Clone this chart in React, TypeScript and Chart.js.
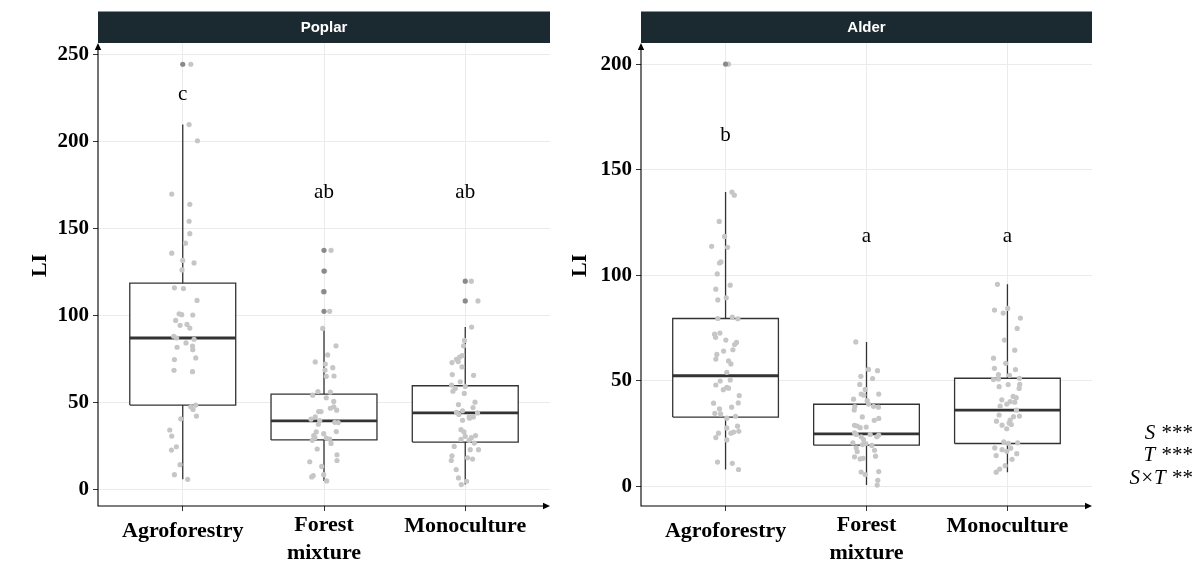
import React, { useEffect, useRef } from 'react';
import { Chart, registerables } from 'chart.js';

Chart.register(...registerables);

const SERIF = '"Liberation Serif", "Times New Roman", serif';
const SANS = '"Liberation Sans", Arial, sans-serif';

// ---------- shared ----------
const categories = ['Agroforestry', 'Forest mixture', 'Monoculture'];
const xTickLabels = [['Agroforestry'], ['Forest', 'mixture'], ['Monoculture']];
const yAxisTitle = 'LI';
const effectsText = ['S ***', 'T ***', 'S×T **'];

// ---------- Poplar ----------
const poplarTitle = 'Poplar';
const poplarYTicks = [0, 50, 100, 150, 200, 250];
const poplarYMin = -9.2;
const poplarYMax = 256.5;
const poplarQ1 = [48.7, 28.7, 27.5];
const poplarMedian = [87.2, 39.6, 44.2];
const poplarQ3 = [118.7, 55.0, 59.8];
const poplarWhiskerLow = [6.1, 5.2, 3.1];
const poplarWhiskerHigh = [209.7, 92.7, 93.5];
const poplarOutliers = [[244.3], [137.5, 125.6, 113.8, 102.5], [119.8, 108.5]];
const poplarLetters = ['c', 'ab', 'ab'];
const poplarLetterY = [227, 170.7, 170.7];

const poplarAgroValues = [244.3, 209.7, 200.4, 169.8, 163.9, 154.2, 147.1, 141.6, 135.9, 131.7, 130.3, 126.3, 116.0, 115.6, 108.8, 101.1, 100.6, 100.4, 97.3, 94.5, 95.0, 92.9, 88.2, 87.2, 86.5, 84.4, 82.6, 81.9, 80.5, 75.8, 74.8, 68.7, 67.9, 48.7, 47.7, 46.2, 42.4, 40.8, 34.4, 30.9, 24.8, 22.9, 14.5, 8.8, 6.1];
const poplarAgroJitter = [0.057, 0.045, 0.104, -0.078, 0.050, 0.045, 0.050, 0.019, -0.078, 0.000, 0.080, -0.005, -0.059, 0.005, 0.101, -0.026, -0.007, 0.071, -0.050, -0.019, 0.030, 0.050, -0.064, -0.043, 0.080, 0.023, 0.069, -0.040, 0.071, 0.092, -0.059, -0.062, 0.069, 0.092, 0.057, 0.073, 0.097, -0.014, -0.092, -0.078, -0.045, -0.080, -0.019, -0.059, 0.035];

const poplarForestValues = [137.5, 125.6, 113.8, 102.5, 92.7, 82.7, 77.5, 73.5, 72.3, 70.2, 68.8, 65.2, 65.4, 54.4, 56.5, 56.2, 52.9, 50.8, 47.7, 46.9, 45.8, 45.0, 45.0, 41.9, 40.6, 39.8, 38.7, 38.8, 37.7, 33.3, 32.3, 33.5, 31.2, 30.0, 29.8, 29.2, 28.5, 26.7, 23.5, 20.2, 16.9, 16.2, 13.5, 8.3, 7.5, 8.8, 5.2];
const poplarForestJitter = [0.050, 0.005, -0.005, 0.040, -0.009, 0.085, 0.026, -0.062, 0.009, 0.062, 0.007, 0.016, 0.071, -0.080, -0.043, 0.045, 0.016, 0.069, 0.069, 0.045, 0.090, -0.038, -0.021, -0.062, -0.092, -0.030, 0.101, 0.076, -0.040, -0.055, -0.002, 0.087, -0.073, -0.064, 0.016, 0.040, -0.083, 0.050, -0.048, 0.092, 0.092, -0.101, -0.016, -0.076, -0.087, -0.002, 0.019];

const poplarMonoValues = [119.8, 108.5, 93.5, 85.8, 82.7, 77.1, 76.2, 75.0, 73.7, 73.1, 70.6, 65.8, 66.2, 62.1, 60.2, 59.4, 58.3, 56.7, 55.4, 50.4, 49.0, 47.3, 44.6, 45.4, 44.2, 43.3, 41.9, 41.9, 41.2, 40.0, 34.6, 33.3, 31.2, 30.0, 30.8, 29.0, 28.5, 26.9, 23.1, 23.1, 25.0, 18.5, 17.7, 19.6, 16.9, 11.7, 6.9, 5.0, 3.1];
const poplarMonoJitter = [0.043, 0.090, 0.045, -0.005, -0.012, -0.021, -0.040, -0.062, -0.050, -0.094, -0.023, 0.059, -0.092, -0.035, -0.097, 0.000, -0.071, -0.087, -0.007, 0.069, -0.048, 0.055, -0.062, -0.019, 0.087, -0.045, 0.028, 0.057, 0.030, -0.019, -0.030, -0.009, 0.073, 0.043, 0.000, -0.030, 0.028, 0.064, 0.094, 0.035, -0.078, 0.016, 0.052, -0.094, -0.099, -0.064, -0.048, 0.009, -0.028];

// ---------- Alder ----------
const alderTitle = 'Alder';
const alderYTicks = [0, 50, 100, 150, 200];
const alderYMin = -9.3;
const alderYMax = 210.0;
const alderQ1 = [32.8, 19.5, 20.3];
const alderMedian = [52.4, 24.9, 36.1];
const alderQ3 = [79.5, 38.9, 51.2];
const alderWhiskerLow = [8.0, 0.6, 6.7];
const alderWhiskerHigh = [139.4, 68.4, 95.7];
const alderOutliers = [[200], [], []];
const alderLetters = ['b', 'a', 'a'];
const alderLetterY = [166, 118.3, 118.3];

const alderAgroValues = [200, 139.4, 137.9, 125.5, 118.4, 113.7, 113.2, 106.3, 105.8, 100.6, 95.3, 93.4, 89.3, 88.3, 79.5, 80.2, 79.4, 72.1, 72.6, 70.6, 69.3, 68.2, 67.2, 62.5, 64.1, 64.7, 60.3, 59.4, 58.0, 54.0, 49.9, 50.4, 48.0, 46.9, 45.8, 46.5, 43.0, 39.5, 39.4, 36.7, 37.5, 34.6, 34.3, 33.2, 32.3, 27.7, 28.5, 26.1, 25.7, 25.2, 25.2, 23.1, 22.0, 11.5, 10.9, 8.0];
const alderAgroJitter = [0.021, 0.045, 0.062, -0.045, -0.007, -0.099, 0.014, -0.033, -0.043, -0.059, 0.033, -0.069, 0.005, -0.055, -0.055, 0.048, 0.087, -0.078, -0.040, -0.071, 0.002, 0.078, 0.064, -0.062, -0.014, 0.052, -0.069, 0.021, 0.038, 0.009, -0.038, 0.033, -0.069, 0.009, -0.016, 0.021, 0.097, 0.090, -0.085, -0.043, 0.043, -0.076, -0.035, 0.071, 0.009, 0.009, 0.085, 0.094, 0.057, -0.050, 0.038, -0.069, 0.009, -0.057, 0.048, 0.092];

const alderForestValues = [68.4, 55.4, 54.8, 52.1, 51.1, 48.3, 45.9, 43.7, 43.2, 43.7, 41.3, 40.6, 37.8, 39.0, 37.9, 37.5, 36.2, 32.9, 32.2, 31.3, 28.9, 28.6, 27.8, 28.1, 25.4, 24.6, 23.5, 24.6, 24.3, 23.5, 22.2, 20.6, 19.8, 20.3, 19.4, 18.3, 17.1, 16.5, 14.0, 13.0, 13.3, 14.3, 6.8, 5.6, 7.0, 2.9, 0.6];
const alderForestJitter = [-0.076, 0.014, 0.078, -0.040, 0.043, -0.048, -0.009, -0.038, -0.019, 0.087, -0.092, 0.005, -0.083, 0.014, 0.050, 0.085, -0.087, -0.030, 0.087, 0.055, -0.085, -0.066, -0.045, -0.002, -0.085, -0.073, -0.038, 0.026, 0.087, 0.073, -0.021, -0.097, -0.028, -0.005, 0.038, -0.073, 0.057, -0.066, -0.085, -0.045, -0.023, 0.064, -0.038, -0.009, 0.087, 0.080, 0.076];

const alderMonoValues = [95.7, 83.5, 82.1, 84.3, 79.7, 74.8, 69.3, 64.5, 60.7, 58.3, 55.9, 55.3, 52.9, 52.6, 50.6, 50.9, 51.2, 48.3, 48.2, 47.2, 46.4, 42.6, 42.0, 41.0, 40.1, 39.9, 39.0, 38.0, 36.1, 33.8, 33.3, 33.0, 31.4, 30.9, 30.0, 29.0, 29.3, 27.3, 21.1, 20.4, 20.6, 18.2, 17.4, 18.1, 16.6, 15.5, 14.6, 12.8, 9.8, 8.2, 6.7];
const alderMonoJitter = [-0.071, -0.092, -0.030, 0.002, 0.092, 0.069, -0.021, 0.052, -0.099, -0.012, -0.092, 0.057, -0.064, 0.014, -0.099, -0.064, 0.085, 0.087, 0.005, -0.059, 0.083, 0.040, 0.062, -0.040, 0.019, 0.052, -0.005, -0.052, 0.064, -0.059, 0.085, 0.043, 0.019, -0.078, 0.012, -0.038, 0.028, -0.005, -0.026, 0.007, 0.073, -0.090, -0.038, 0.023, -0.005, 0.066, -0.080, 0.033, -0.016, -0.055, -0.080];

// ---------- chart construction ----------
const BOX_HALF = 0.375;

interface PanelSpec {
  title: string;
  yTicks: number[];
  yMin: number;
  yMax: number;
  q1: number[];
  median: number[];
  q3: number[];
  low: number[];
  high: number[];
  outliers: number[][];
  letters: string[];
  letterY: number[];
  values: number[][];
  jitter: number[][];
  yAxisWidth: number;
  rightPad: number;
  titleX: number;
  showEffects: boolean;
}

function buildDatasets(p: PanelSpec): any[] {
  const ds: any[] = [];
  p.q1.forEach((_, i) => {
    ds.push({
      data: [
        { x: i - BOX_HALF, y: p.q1[i] },
        { x: i + BOX_HALF, y: p.q1[i] },
        { x: i + BOX_HALF, y: p.q3[i] },
        { x: i - BOX_HALF, y: p.q3[i] },
        { x: i - BOX_HALF, y: p.q1[i] },
      ],
      showLine: true,
      fill: 'shape',
      backgroundColor: '#ffffff',
      borderColor: '#333333',
      borderWidth: 1.3,
      borderJoinStyle: 'miter',
      pointRadius: 0,
      order: 4,
    });
  });
  const whisk: any[] = [];
  const med: any[] = [];
  p.q1.forEach((_, i) => {
    whisk.push({ x: i, y: p.q3[i] }, { x: i, y: p.high[i] }, { x: i, y: null });
    whisk.push({ x: i, y: p.q1[i] }, { x: i, y: p.low[i] }, { x: i, y: null });
    med.push({ x: i - BOX_HALF, y: p.median[i] }, { x: i + BOX_HALF, y: p.median[i] }, { x: i, y: null });
  });
  ds.push({
    data: whisk,
    showLine: true,
    spanGaps: false,
    borderColor: '#333333',
    borderWidth: 1.3,
    pointRadius: 0,
    order: 3,
  });
  ds.push({
    data: med,
    showLine: true,
    spanGaps: false,
    borderColor: '#333333',
    borderWidth: 2.8,
    borderCapStyle: 'butt',
    pointRadius: 0,
    order: 2,
  });
  const pts: any[] = [];
  p.values.forEach((vals, i) => {
    vals.forEach((v, k) => pts.push({ x: i + p.jitter[i][k], y: v }));
  });
  ds.push({
    data: pts,
    showLine: false,
    pointRadius: 2.6,
    pointBorderWidth: 0,
    pointBackgroundColor: '#c6c6c6',
    pointBorderColor: '#c6c6c6',
    order: 1,
  });
  const outs: any[] = [];
  p.outliers.forEach((vals, i) => vals.forEach((v) => outs.push({ x: i, y: v })));
  ds.push({
    data: outs,
    showLine: false,
    pointRadius: 2.6,
    pointBorderWidth: 0,
    pointBackgroundColor: '#8a8a8a',
    pointBorderColor: '#8a8a8a',
    order: 0,
  });
  return ds;
}

function decorPlugin(p: PanelSpec) {
  return {
    id: 'decor',
    afterDraw(chart: any) {
      const ctx: CanvasRenderingContext2D = chart.ctx;
      const a = chart.chartArea;
      const xs = chart.scales.x;
      const ys = chart.scales.y;
      ctx.save();
      // strip
      const stripTop = 11.5;
      ctx.fillStyle = '#1b2a31';
      ctx.fillRect(a.left, stripTop, a.right - a.left, a.top - stripTop);
      ctx.fillStyle = '#ffffff';
      ctx.font = `bold 15px ${SANS}`;
      ctx.textAlign = 'center';
      ctx.textBaseline = 'middle';
      ctx.fillText(p.title, (a.left + a.right) / 2, (stripTop + a.top) / 2 + 1);

      // axis lines with arrows
      ctx.strokeStyle = '#000000';
      ctx.fillStyle = '#000000';
      ctx.lineWidth = 1.1;
      ctx.beginPath();
      ctx.moveTo(a.left, a.bottom + 0.5);
      ctx.lineTo(a.left, a.top + 5);
      ctx.moveTo(a.left - 0.5, a.bottom);
      ctx.lineTo(a.right - 5, a.bottom);
      ctx.stroke();
      ctx.beginPath();
      ctx.moveTo(a.left, a.top);
      ctx.lineTo(a.left - 3.2, a.top + 7);
      ctx.lineTo(a.left + 3.2, a.top + 7);
      ctx.closePath();
      ctx.fill();
      ctx.beginPath();
      ctx.moveTo(a.right, a.bottom);
      ctx.lineTo(a.right - 7, a.bottom - 3.2);
      ctx.lineTo(a.right - 7, a.bottom + 3.2);
      ctx.closePath();
      ctx.fill();

      // significance letters
      ctx.font = `21px ${SERIF}`;
      ctx.textAlign = 'center';
      ctx.textBaseline = 'middle';
      p.letters.forEach((t, i) => {
        ctx.fillText(t, xs.getPixelForValue(i), ys.getPixelForValue(p.letterY[i]));
      });

      // category labels
      ctx.font = `bold 22px ${SERIF}`;
      ctx.textBaseline = 'alphabetic';
      xTickLabels.forEach((lines, i) => {
        const cx = xs.getPixelForValue(i);
        if (lines.length > 1) {
          lines.forEach((ln, j) => ctx.fillText(ln, cx, a.bottom + 25 + j * 27.5));
        } else {
          const m = ctx.measureText(lines[0]);
          const hasDesc = m.actualBoundingBoxDescent > 2;
          ctx.fillText(lines[0], cx, a.bottom + (hasDesc ? 30.5 : 26));
        }
      });

      // y axis title
      ctx.save();
      ctx.translate(p.titleX, (a.top + a.bottom) / 2 - 9);
      ctx.rotate(-Math.PI / 2);
      ctx.font = `bold 22px ${SERIF}`;
      ctx.textAlign = 'center';
      ctx.textBaseline = 'middle';
      ctx.fillText(yAxisTitle, 0, 0);
      ctx.restore();

      // model effects annotation
      if (p.showEffects) {
        ctx.font = `italic 21px ${SERIF}`;
        ctx.textAlign = 'right';
        ctx.textBaseline = 'middle';
        const ex = chart.width - 8;
        effectsText.forEach((t, k) => ctx.fillText(t, ex, 433 + k * 22.5));
      }
      ctx.restore();
    },
  };
}

function makeConfig(p: PanelSpec): any {
  return {
    type: 'scatter',
    data: { datasets: buildDatasets(p) },
    plugins: [decorPlugin(p)],
    options: {
      responsive: false,
      animation: false,
      events: [],
      layout: { padding: { top: 43, right: p.rightPad, left: 0, bottom: 0 } },
      plugins: { legend: { display: false }, tooltip: { enabled: false } },
      scales: {
        x: {
          type: 'linear',
          min: -0.6,
          max: 2.6,
          afterBuildTicks: (s: any) => {
            s.ticks = categories.map((_, i) => ({ value: i }));
          },
          afterFit: (s: any) => {
            s.height = 56;
          },
          ticks: { display: false },
          grid: { color: '#ebebeb', lineWidth: 1, tickColor: '#333333', tickLength: 5 },
          border: { display: false },
        },
        y: {
          type: 'linear',
          min: p.yMin,
          max: p.yMax,
          afterBuildTicks: (s: any) => {
            s.ticks = p.yTicks.map((v) => ({ value: v }));
          },
          afterFit: (s: any) => {
            s.width = p.yAxisWidth;
          },
          ticks: {
            color: '#000000',
            padding: 4,
            font: { family: SERIF, size: 21, weight: 'bold' },
            callback: (v: any) => String(v),
          },
          grid: { color: '#ebebeb', lineWidth: 1, tickColor: '#333333', tickLength: 5 },
          border: { display: false },
        },
      },
    },
  };
}

const poplarSpec: PanelSpec = {
  title: poplarTitle,
  yTicks: poplarYTicks,
  yMin: poplarYMin,
  yMax: poplarYMax,
  q1: poplarQ1,
  median: poplarMedian,
  q3: poplarQ3,
  low: poplarWhiskerLow,
  high: poplarWhiskerHigh,
  outliers: poplarOutliers,
  letters: poplarLetters,
  letterY: poplarLetterY,
  values: [poplarAgroValues, poplarForestValues, poplarMonoValues],
  jitter: [poplarAgroJitter, poplarForestJitter, poplarMonoJitter],
  yAxisWidth: 98,
  rightPad: 10,
  titleX: 40,
  showEffects: false,
};

const alderSpec: PanelSpec = {
  title: alderTitle,
  yTicks: alderYTicks,
  yMin: alderYMin,
  yMax: alderYMax,
  q1: alderQ1,
  median: alderMedian,
  q3: alderQ3,
  low: alderWhiskerLow,
  high: alderWhiskerHigh,
  outliers: alderOutliers,
  letters: alderLetters,
  letterY: alderLetterY,
  values: [alderAgroValues, alderForestValues, alderMonoValues],
  jitter: [alderAgroJitter, alderForestJitter, alderMonoJitter],
  yAxisWidth: 81,
  rightPad: 108,
  titleX: 20,
  showEffects: true,
};

function Panel({ spec, left, width }: { spec: PanelSpec; left: number; width: number }) {
  const ref = useRef<HTMLCanvasElement | null>(null);
  useEffect(() => {
    if (!ref.current) return;
    const chart = new Chart(ref.current, makeConfig(spec));
    return () => chart.destroy();
  }, [spec]);
  return (
    <canvas
      ref={ref}
      width={width}
      height={562}
      style={{ position: 'absolute', left, top: 0, width, height: 562, display: 'block' }}
    />
  );
}

export default function App() {
  return (
    <div style={{ position: 'absolute', left: 0, top: 0, width: 1200, height: 562, background: '#ffffff', overflow: 'hidden' }}>
      <Panel spec={poplarSpec} left={0} width={560} />
      <Panel spec={alderSpec} left={560} width={640} />
    </div>
  );
}
